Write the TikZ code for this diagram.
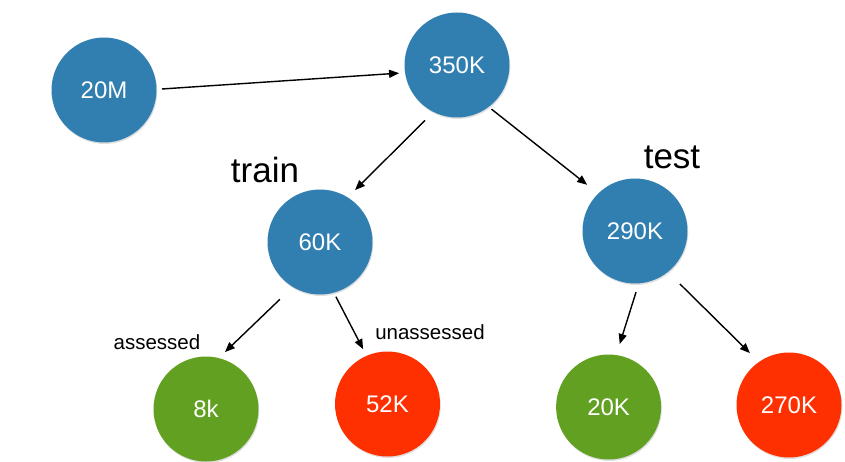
\documentclass[tikz,border=0pt]{standalone}
\usepackage{fontspec}
\setmainfont{Liberation Sans}
\usetikzlibrary{arrows.meta,shadows}
\definecolor{nblue}{RGB}{49,126,176}
\definecolor{ngreen}{RGB}{97,160,33}
\definecolor{nred}{RGB}{255,48,0}
\tikzset{
  circ/.style={circle, minimum size=105pt, inner sep=0pt, text=white,
    font=\fontsize{24}{28}\selectfont,
    drop shadow={opacity=0.25, shadow xshift=0.8pt, shadow yshift=-1.5pt}},
  bluec/.style={circ, fill=nblue},
  greenc/.style={circ, fill=ngreen},
  redc/.style={circ, fill=nred},
  arr/.style={-{Triangle[length=10pt,width=8pt]}, line width=1.4pt, black},
  biglab/.style={font=\fontsize{35}{40}\selectfont},
  smalllab/.style={font=\fontsize{20.5}{24}\selectfont},
}
\begin{document}
\begin{tikzpicture}[x=1pt,y=1pt]
\useasboundingbox (0,0) rectangle (845,461);
\node[bluec] (a) at (104,371) {20M};
\node[bluec] (b) at (457,396) {350K};
\node[bluec] (c) at (320,219) {60K};
\node[bluec] (d) at (635,230) {290K};
\node[greenc] (e) at (206,52) {8k};
\node[redc] (f) at (387.5,57) {52K};
\node[greenc] (g) at (608.6,54) {20K};
\node[redc] (h) at (789,56) {270K};

\node[biglab] (ltrain) at (265,291) {train};
\node[biglab] (ltest) at (672,304) {test};
\node[smalllab] (lass) at (157,119) {assessed};
\node[smalllab] (lunass) at (430,129) {unassessed};

\draw[arr] ([shift={(1:58pt)}]a.center) -- ([shift={(188:58.5pt)}]b.center);
\draw[arr] ([shift={(240:64pt)}]b.center) -- ([shift={(56:62.7pt)}]c.center);
\draw[arr] ([shift={(-52:56pt)}]b.center) -- ([shift={(136:66.5pt)}]d.center);
\draw[arr] ([shift={(235:70pt)}]c.center) -- ([shift={(71.6:60pt)}]e.center);
\draw[arr] ([shift={(-73.8:57pt)}]c.center) -- ([shift={(114:60pt)}]f.center);
\draw[arr] ([shift={(-89:61pt)}]d.center) -- ([shift={(80:64pt)}]g.center);
\draw[arr] ([shift={(-49.7:69.5pt)}]d.center) -- ([shift={(127:65pt)}]h.center);
\end{tikzpicture}
\end{document}
